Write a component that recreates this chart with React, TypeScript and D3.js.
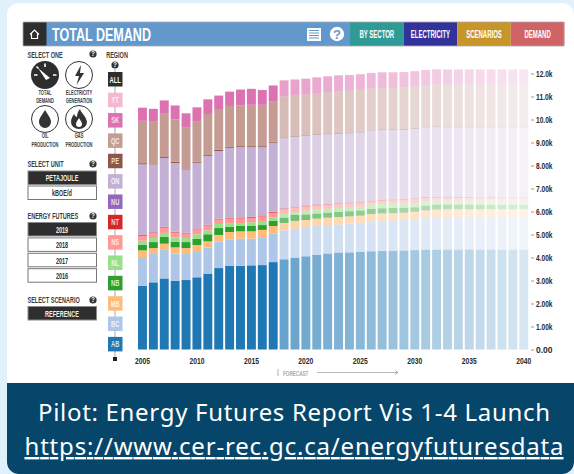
import React, { useEffect, useRef } from "react";
import * as d3 from "d3";

const years = d3.range(2005, 2041);
const regions = ["AB", "BC", "MB", "NB", "NL", "NS", "NT", "NU", "ON", "PE", "QC", "SK", "YT"];
const colors = ["#1f77b4", "#aec7e8", "#ffbb78", "#2ca02c", "#98df8a", "#ff9896", "#d62728", "#9467bd", "#c5b0d5", "#8c564b", "#c49c94", "#dc72b2", "#f7b6d2"];

// values in thousands of petajoules
const AB = [2.77, 2.92, 3.09, 2.98, 3.02, 3.14, 3.30, 3.54, 3.63, 3.64, 3.66, 3.67, 3.80, 3.92, 3.99, 4.05, 4.11, 4.17, 4.21, 4.22, 4.24, 4.27, 4.28, 4.29, 4.30, 4.32, 4.34, 4.34, 4.34, 4.34, 4.34, 4.34, 4.34, 4.34, 4.34, 4.34];
const BC = [1.25, 1.23, 1.24, 1.19, 1.13, 1.14, 1.13, 1.16, 1.16, 1.18, 1.16, 1.21, 1.25, 1.26, 1.26, 1.26, 1.26, 1.24, 1.23, 1.26, 1.27, 1.30, 1.32, 1.32, 1.33, 1.35, 1.38, 1.41, 1.42, 1.42, 1.42, 1.42, 1.41, 1.41, 1.41, 1.41];
const MB = [.29, .26, .27, .27, .26, .26, .27, .28, .32, .32, .32, .32, .32, .32, .34, .32, .32, .32, .32, .31, .31, .32, .32, .32, .32, .32, .33, .34, .34, .34, .34, .34, .35, .35, .35, .35];
const NB = [.25, .26, .29, .25, .26, .28, .31, .30, .23, .23, .23, .21, .22, .23, .26, .24, .22, .22, .22, .22, .22, .22, .22, .22, .21, .19, .20, .21, .20, .20, .20, .20, .19, .19, .19, .19];
const NL = [.17, .18, .18, .19, .18, .19, .17, .18, .15, .13, .16, .18, .16, .17, .12, .16, .18, .17, .17, .17, .17, .19, .19, .19, .20, .19, .18, .17, .17, .17, .17, .17, .18, .18, .18, .18];
const NS = [.22, .22, .23, .21, .20, .22, .22, .20, .21, .20, .20, .20, .20, .20, .21, .19, .18, .18, .18, .18, .16, .14, .15, .15, .14, .17, .17, .13, .13, .13, .13, .13, .13, .13, .13, .13];
const NT = [.03, .02, .02, .02, .02, .02, .02, .02, .03, .03, .03, .03, .03, .03, .02, .03, .03, .02, .02, .02, .02, .02, .02, .02, .02, .02, .02, .02, .02, .02, .02, .02, .02, .02, .02, .02];
const NU = [.01, .01, .01, .01, .01, .01, .01, .01, .01, .01, .01, .01, .01, .01, .01, .01, .01, .01, .01, .01, .01, .01, .01, .01, .01, .01, .01, .01, .01, .01, .01, .01, .01, .01, .01, .01];
const ON = [3.06, 2.95, 3.00, 2.99, 2.75, 2.86, 2.98, 2.94, 3.03, 3.06, 3.03, 2.97, 3.00, 3.05, 3.04, 3.04, 3.02, 3.03, 3.02, 3.01, 3.04, 3.06, 3.03, 3.02, 3.02, 3.03, 3.03, 3.04, 3.03, 3.03, 3.03, 3.03, 3.03, 3.03, 3.03, 3.03];
const PE = [.05, .04, .04, .05, .04, .04, .04, .05, .04, .04, .04, .04, .04, .03, .03, .03, .03, .03, .03, .03, .03, .03, .03, .03, .03, .03, .03, .03, .03, .03, .03, .03, .03, .03, .03, .03];
const QC = [1.84, 1.84, 1.88, 1.85, 1.80, 1.77, 1.79, 1.74, 1.78, 1.78, 1.80, 1.80, 1.77, 1.78, 1.79, 1.76, 1.79, 1.81, 1.80, 1.82, 1.83, 1.80, 1.80, 1.80, 1.81, 1.80, 1.81, 1.82, 1.82, 1.82, 1.82, 1.82, 1.82, 1.82, 1.82, 1.82];
const SK = [.57, .53, .58, .60, .60, .60, .64, .62, .62, .68, .69, .64, .68, .70, .67, .68, .68, .68, .71, .68, .67, .66, .68, .68, .67, .67, .65, .66, .66, .66, .66, .66, .66, .66, .66, .66];
const YT = [.01, .01, .01, .01, .01, .01, .01, .01, .01, .01, .01, .01, .01, .01, .01, .01, .01, .01, .01, .01, .01, .01, .01, .01, .01, .01, .01, .01, .01, .01, .01, .01, .01, .01, .01, .01];
const seriesValues = [AB, BC, MB, NB, NL, NS, NT, NU, ON, PE, QC, SK, YT];

const yTicks = [0, 1000, 2000, 3000, 4000, 5000, 6000, 7000, 8000, 9000, 10000, 11000, 12000];
const xTicks = [2005, 2010, 2015, 2020, 2025, 2030, 2035, 2040];
const futures = ["2019", "2018", "2017", "2016"];
const navButtons = [
  { label: "BY SECTOR", fill: "#2f9b96" },
  { label: "ELECTRICITY", fill: "#32339a" },
  { label: "SCENARIOS", fill: "#c8952b" },
  { label: "DEMAND", fill: "#cf6366" },
];

const sans = "'Liberation Sans', sans-serif";
const dark = "#2e2e2e";

// no condensed font installed, so squeeze the glyphs horizontally
const Label = ({ x, y, children, size = 9.5, fill = "#3c3c3c", anchor = "start", squeeze = 0.58 }: any) => (
  <text transform={`translate(${x},${y}) scale(${squeeze},1)`} fontSize={size} fontWeight={700} fill={fill} textAnchor={anchor} fontFamily={sans}>{children}</text>
);

const Help = ({ x, y }: { x: number; y: number }) => (
  <g>
    <circle cx={x} cy={y} r={3.6} fill="#333" />
    <Label x={x} y={y + 2.4} size={6.5} fill="#fff" anchor="middle" squeeze={1}>?</Label>
  </g>
);

const Button = ({ y, label, active }: { y: number; label: string; active?: boolean }) => (
  <g>
    <rect x={28} y={y} width={68.5} height={13.5} fill={active ? dark : "#fff"} stroke={active ? "#8a8a8a" : "#777"} strokeWidth={1} />
    <Label x={62} y={y + 10.2} fill={active ? "#eee" : "#333"} anchor="middle">{label}</Label>
  </g>
);

export default function App() {
  const yAxisRef = useRef<SVGGElement>(null);
  const xAxisRef = useRef<SVGGElement>(null);

  const table = years.map((year, i) => {
    const row: any = { year };
    regions.forEach((r, k) => { row[r] = seriesValues[k][i] * 1000; });
    return row;
  });
  const stacked = d3.stack().keys(regions)(table);

  const x = d3.scaleBand<number>().domain(years).range([138, 528.2]).paddingInner(0.18);
  const y = d3.scaleLinear().domain([0, 12000]).range([349.5, 73.5]);
  // forecast years fade out
  const fade = d3.scaleLinear().domain([2018, 2040]).range([0.68, 0.18]);
  const opacity = (year: number) => (year < 2018 ? 1 : fade(year));

  useEffect(() => {
    const yg = d3.select(yAxisRef.current)
      .call(d3.axisRight(y).tickValues(yTicks).tickSize(3).tickPadding(2).tickFormat(d3.format(".3s") as any) as any);
    yg.select(".domain").remove();
    yg.selectAll("line").attr("stroke", "#999");
    yg.selectAll("text").attr("font-size", 9).attr("font-weight", 700).attr("fill", "#2a2a2a").attr("font-family", sans)
      .attr("textLength", 16.5).attr("lengthAdjust", "spacingAndGlyphs");

    const xg = d3.select(xAxisRef.current)
      .call(d3.axisBottom(x).tickValues(xTicks).tickSize(0).tickPadding(6).tickFormat(d3.format("d") as any) as any);
    xg.select(".domain").remove();
    xg.selectAll("text").attr("font-size", 9).attr("font-weight", 700).attr("fill", "#2a2a2a").attr("font-family", sans)
      .attr("textLength", 15).attr("lengthAdjust", "spacingAndGlyphs");
  }, []);

  return (
    <svg width={574} height={474} style={{ position: "absolute", left: 0, top: 0, display: "block" }}>
      <rect width={574} height={474} fill="#e0f1fb" />
      <rect x={7} y={3} width={567} height={471} rx={12} fill="#fff" />
      <path d="M7 383H574V462A12 12 0 0 1 562 474H19A12 12 0 0 1 7 462Z" fill="#06466b" />

      {/* header bar */}
      <rect x={23} y={22} width={327} height={24} fill="#6298cc" />
      <rect x={23} y={22} width={23.5} height={24} fill={dark} />
      <path d="M30 34.5 L34.5 30 L39 34.5 M31.5 33.5 V38.5 H37.5 V33.5" fill="none" stroke="#fff" strokeWidth={1.2} />
      <text x={52} y={41} fontSize={18} fontWeight={700} fill="#fff" fontFamily={sans} textLength={99} lengthAdjust="spacingAndGlyphs">TOTAL DEMAND</text>
      <rect x={307} y={28} width={14} height={13} fill="#fff" />
      {[30.5, 33, 35.5, 38].map((ly) => <line key={ly} x1={309} x2={319} y1={ly} y2={ly} stroke="#6298cc" strokeWidth={1} />)}
      <circle cx={337} cy={34} r={7.2} fill="#fff" />
      <text x={337} y={38.5} fontSize={13} fontWeight={700} fill="#6298cc" textAnchor="middle" fontFamily={sans}>?</text>
      {navButtons.map((b, i) => (
        <g key={b.label}>
          <rect x={350 + i * 53.6} y={22} width={53.6} height={24} fill={b.fill} />
          <Label x={376.8 + i * 53.6} y={37.5} size={10} fill="#fff" anchor="middle" squeeze={0.6}>{b.label}</Label>
        </g>
      ))}
      <rect x={23} y={22} width={541} height={24} fill="none" stroke="#aaa" strokeWidth={0.8} rx={1} />

      {/* left controls */}
      <Label x={27.5} y={58}>SELECT ONE</Label>
      <Help x={93} y={54} />
      <circle cx={45} cy={75} r={14} fill={dark} />
      <path d="M38 68 L50 78 L46 80 Z" fill="#fff" />
      <path d="M45 63.5 V67 M34 75 H37.5 M53 75 H56.5 M36.5 66.5 L38.5 68.5" stroke="#fff" strokeWidth={1.6} />
      <circle cx={79} cy={75} r={13.5} fill="#fff" stroke="#333" strokeWidth={1} />
      <path d="M81 65 L75 76 H79 L76.5 85 L84 73 H80 Z" fill="#333" />
      <circle cx={45} cy={119} r={13.5} fill="#fff" stroke="#333" strokeWidth={1} />
      <path d="M45 110 C48 115 51 118 51 122 A6 6 0 0 1 39 122 C39 118 42 115 45 110 Z" fill="#333" />
      <circle cx={79} cy={119} r={13.5} fill="#fff" stroke="#333" strokeWidth={1} />
      <path d="M80 109 C81 113 86 116 87 122 A8 7 0 0 1 71 122 C71 118 73 116 74 114 C75 116 76 117 77 117 C77 114 78 111 80 109 Z" fill="#333" />
      <path d="M79 118 C80 120 82 122 82 124 A3 3 0 0 1 76 124 C76 122 78 120 79 118 Z" fill="#fff" />
      <Label x={45} y={95} size={6.5} anchor="middle" squeeze={0.62}>TOTAL</Label>
      <Label x={45} y={103} size={6.5} anchor="middle" squeeze={0.62}>DEMAND</Label>
      <Label x={79} y={95} size={6.5} anchor="middle" squeeze={0.62}>ELECTRICITY</Label>
      <Label x={79} y={103} size={6.5} anchor="middle" squeeze={0.62}>GENERATION</Label>
      <Label x={45} y={138} size={6.5} anchor="middle" squeeze={0.62}>OIL</Label>
      <Label x={45} y={147} size={6.5} anchor="middle" squeeze={0.62}>PRODUCTION</Label>
      <Label x={79} y={138} size={6.5} anchor="middle" squeeze={0.62}>GAS</Label>
      <Label x={79} y={147} size={6.5} anchor="middle" squeeze={0.62}>PRODUCTION</Label>

      <Label x={27.5} y={167}>SELECT UNIT</Label>
      <Help x={93} y={164} />
      <Button y={171} label="PETAJOULE" active />
      <Button y={186} label="kBOE/d" />
      <Label x={27.5} y={219}>ENERGY FUTURES</Label>
      <Help x={93} y={216} />
      {futures.map((f, i) => <Button key={f} y={222.5 + i * 15.4} label={f} active={i === 0} />)}
      <Label x={27.5} y={303}>SELECT SCENARIO</Label>
      <Help x={93} y={300} />
      <Button y={306.5} label="REFERENCE" active />

      {/* region selector */}
      <Label x={117} y={58} anchor="middle">REGION</Label>
      <Help x={115} y={65} />
      <line x1={115} x2={115} y1={68} y2={359} stroke="#aaa" strokeWidth={1} />
      <rect x={108} y={72} width={14.5} height={14.5} fill={dark} />
      <Label x={115.2} y={82.5} size={8.5} fill="#fff" anchor="middle" squeeze={0.68}>ALL</Label>
      {[...regions].reverse().map((r, i) => (
        <g key={r}>
          <rect x={108} y={92.7 + i * 20.35} width={14.5} height={14.5} fill={colors[regions.length - 1 - i]} />
          <Label x={115.2} y={103 + i * 20.35} size={8.5} fill="#ffffffd0" anchor="middle" squeeze={0.68}>{r}</Label>
        </g>
      ))}
      <rect x={113} y={357} width={4} height={4} fill="#222" />

      {/* bars */}
      {stacked.map((layer, k) => (
        <g key={layer.key} fill={colors[k]}>
          {layer.map((d: any) => (
            <rect key={d.data.year} x={x(d.data.year)} y={y(d[1])} width={x.bandwidth()} height={y(d[0]) - y(d[1])} fillOpacity={opacity(d.data.year)} />
          ))}
        </g>
      ))}
      <g ref={yAxisRef} transform="translate(531,0)" />
      <g ref={xAxisRef} transform="translate(0,352)" />

      {/* forecast marker */}
      <line x1={278} x2={278} y1={369} y2={376} stroke="#999" strokeWidth={0.8} />
      <Label x={283} y={375.5} size={8} fill="#aaa">FORECAST</Label>
      <path d="M317 372.5 H398 M395 370.5 L398 372.5 L395 374.5" fill="none" stroke="#999" strokeWidth={0.7} />

      {/* footer */}
      <text x={294} y={421} fontSize={24} fill="#fff" textAnchor="middle" fontFamily="'Noto Sans', sans-serif" textLength={512}>Pilot: Energy Futures Report Vis 1-4 Launch</text>
      <text x={294} y={455} fontSize={24} fill="#fff" textAnchor="middle" fontFamily="'Noto Sans', sans-serif" textLength={539} textDecoration="underline">https://www.cer-rec.gc.ca/energyfuturesdata</text>
    </svg>
  );
}
